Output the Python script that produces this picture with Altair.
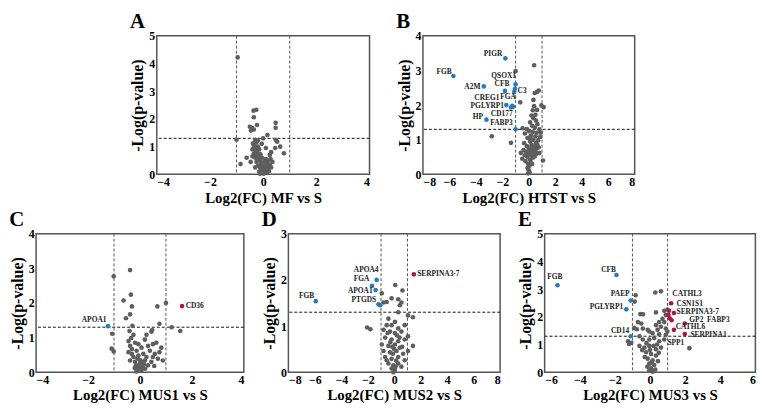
import altair as alt
import pandas as pd

FONT = "Liberation Serif"
GRAY = "#5e5e5e"
BLUE = "#2a7ab7"
RED = "#a8193f"

FC_CUT = [-1, 1]
P_CUT = [1.3]

# ---------------- Panel A : MF vs S ----------------
A_GRAY = [
    (-0.96, 4.22), (-0.36, 2.30), (-0.26, 2.33), (-0.35, 2.06), (-0.23, 1.78), (-0.50, 1.72), (-0.42, 1.68),
    (-0.35, 1.62), (-0.46, 1.58), (0.47, 1.86), (0.47, 1.68), (-1.00, 1.25), (0.00, 1.30), (0.16, 1.42),
    (0.47, 1.25), (0.53, 1.18), (0.64, 1.00), (0.78, 0.76), (0.45, 0.95), (0.30, 0.80), (-0.62, 0.60),
    (-0.85, 0.37), (-0.47, 0.45), (-0.30, 1.25), (-0.25, 1.15), (-0.35, 1.05), (-0.20, 1.00), (-0.30, 0.95),
    (-0.15, 0.90), (-0.28, 0.85), (-0.22, 0.80), (-0.35, 0.75), (-0.10, 0.72), (-0.25, 0.70), (-0.18, 0.65),
    (-0.30, 0.60), (-0.05, 0.60), (0.10, 0.55), (-0.20, 0.55), (-0.12, 0.50), (0.05, 0.48), (0.20, 0.50),
    (-0.25, 0.45), (0.00, 0.42), (0.15, 0.40), (-0.10, 0.38), (0.25, 0.35), (-0.05, 0.32), (0.10, 0.30),
    (-0.20, 0.30), (0.05, 0.25), (0.18, 0.22), (-0.10, 0.20), (0.00, 0.18), (0.12, 0.15), (-0.05, 0.12),
    (0.05, 0.08), (-0.02, 0.05), (0.02, 0.02), (0.30, 0.25), (-0.30, 0.25), (0.22, 0.12), (-0.15, 0.10),
    (0.35, 0.45), (0.28, 0.55), (-0.40, 0.90), (-0.38, 1.12), (0.10, 0.95), (-0.05, 1.10), (0.08, 0.20),
    (-0.08, 0.28), (0.15, 0.05), (-0.12, 0.02), (0.20, 0.30), (-0.20, 1.22), (-0.32, 1.00), (-0.40, 0.65),
    (0.25, 0.70),
]
A_BLUE = []
A_RED = []
A_LAB_R = []
A_LAB_L = []

# ---------------- Panel B : HTST vs S ----------------
B_GRAY = [
    (0.40, 3.15), (-1.00, 2.98), (0.75, 2.42), (0.62, 2.38), (0.45, 2.35), (-0.65, 2.08), (0.35, 2.15),
    (0.40, 1.97), (0.95, 1.99), (1.12, 1.94), (0.30, 1.85), (0.62, 1.86), (0.20, 1.70), (0.50, 1.72),
    (0.35, 1.62), (0.55, 1.55), (0.10, 1.50), (0.65, 1.45), (0.25, 1.40), (0.45, 1.35), (-0.47, 1.33),
    (-0.15, 1.31), (0.80, 1.30), (0.00, 1.25), (0.30, 1.22), (0.60, 1.20), (-0.30, 1.18), (0.15, 1.12),
    (0.50, 1.10), (0.85, 1.08), (-0.10, 1.05), (0.35, 1.00), (0.70, 0.98), (-1.35, 0.91), (-2.80, 1.10),
    (0.10, 0.95), (-0.35, 0.90), (0.55, 0.90), (0.20, 0.85), (-0.15, 0.82), (0.40, 0.80), (0.75, 0.78),
    (0.00, 0.75), (0.25, 0.72), (-0.40, 0.70), (0.50, 0.70), (0.10, 0.66), (-0.20, 0.65), (0.35, 0.62),
    (0.60, 0.60), (0.00, 0.58), (-0.30, 0.55), (0.20, 0.55), (0.45, 0.52), (-0.10, 0.50), (0.30, 0.48),
    (1.07, 0.40), (0.10, 0.42), (-0.50, 0.45), (0.15, 0.35), (-0.05, 0.30), (0.05, 0.25), (-0.10, 0.18),
    (0.00, 0.12), (0.05, 0.06), (-0.05, 0.03), (0.25, 0.30), (-0.25, 0.38), (0.80, 0.62), (0.90, 1.20),
    (0.40, 0.58), (0.55, 0.75), (0.65, 0.85), (0.15, 1.02), (-0.60, 0.62),
]
B_BLUE = [
    (-1.77, 3.35), (-5.70, 2.84), (-3.40, 2.54), (-1.80, 2.41), (-1.00, 2.60), (-1.05, 2.47), (-1.10, 2.38),
    (-1.70, 2.00), (-1.25, 1.98), (-1.35, 1.93), (-1.20, 1.95), (-3.20, 1.58), (-1.00, 1.30),
]
B_RED = []
B_LAB_R = [
    ("PIGR", -2.0, 3.48), ("FGB", -5.83, 2.96), ("A2M", -3.66, 2.51), ("QSOX1", -0.97, 2.83),
    ("CFB", -1.47, 2.60), ("CREG1", -2.22, 2.19), ("FGA", -0.97, 2.22), ("PGLYRP1", -1.87, 1.97),
    ("CD177", -1.22, 1.73), ("HP", -3.46, 1.66), ("FABP3", -1.22, 1.47),
]
B_LAB_L = [("C3", -0.85, 2.42)]

# ---------------- Panel C : MUS1 vs S ----------------
C_GRAY = [
    (-0.38, 2.95), (-1.01, 2.77), (-0.63, 2.07), (-0.35, 2.24), (-0.31, 1.90), (0.67, 1.90), (1.00, 2.00),
    (-0.54, 1.56), (-0.38, 1.67), (-0.29, 1.34), (0.75, 1.40), (1.22, 1.30), (1.55, 1.19), (-1.07, 1.11),
    (-1.09, 0.68), (-1.01, 0.60), (-0.40, 1.19), (-0.25, 1.08), (-0.34, 0.99), (-0.44, 0.90), (-0.19, 0.85),
    (-0.38, 0.76), (-0.06, 0.81), (-0.31, 0.67), (-0.13, 0.62), (0.06, 0.71), (0.19, 0.94), (0.44, 1.17),
    (0.47, 1.22), (0.25, 1.08), (0.31, 0.76), (0.50, 0.81), (0.63, 0.85), (0.38, 0.62), (0.57, 0.53),
    (0.69, 0.39), (0.88, 0.34), (0.13, 0.53), (-0.06, 0.48), (-0.25, 0.44), (-0.38, 0.34), (-0.19, 0.30),
    (0.00, 0.25), (0.19, 0.34), (0.31, 0.20), (0.06, 0.11), (-0.06, 0.16), (-0.13, 0.02), (0.13, 0.30),
    (-0.31, 0.53), (-0.44, 0.58), (0.50, 0.44), (0.25, 0.44), (0.44, 0.30), (0.75, 0.58), (0.82, 0.71),
    (0.05, 0.05), (-0.05, 0.08), (0.10, 0.15), (-0.15, 0.20), (0.20, 0.10), (0.55, 0.18), (-0.20, 0.12),
    (0.00, 0.35), (0.15, 0.22), (-0.10, 0.40),
]
C_BLUE = [(-1.23, 1.33)]
C_RED = [(1.62, 1.91)]
C_LAB_R = [("APOA1", -1.29, 1.52)]
C_LAB_L = [("CD36", 1.76, 1.90)]

# ---------------- Panel D : MUS2 vs S ----------------
D_GRAY = [
    (-0.94, 1.71), (0.07, 1.89), (0.62, 1.77), (-0.20, 1.60), (0.30, 1.58), (-0.57, 1.52), (-0.81, 1.51),
    (0.42, 1.45), (0.54, 1.51), (1.41, 1.19), (1.04, 1.23), (-2.05, 0.97), (-1.80, 0.93), (-0.44, 1.16),
    (0.05, 1.09), (-0.57, 1.02), (-0.20, 1.02), (0.30, 0.95), (0.79, 1.02), (-0.81, 0.92), (-0.32, 0.88),
    (0.05, 0.85), (0.54, 0.88), (1.04, 0.78), (1.41, 0.57), (-0.69, 0.75), (-0.20, 0.71), (0.30, 0.67),
    (0.79, 0.71), (-0.94, 0.60), (-0.44, 0.57), (0.05, 0.60), (0.42, 0.53), (-0.81, 0.46), (-0.32, 0.43),
    (0.17, 0.46), (0.67, 0.40), (1.04, 0.46), (-0.69, 0.33), (-0.20, 0.29), (0.30, 0.33), (0.79, 0.26),
    (-0.44, 0.19), (-0.07, 0.15), (0.30, 0.19), (-0.20, 0.08), (0.05, 0.05), (-0.07, 0.00), (-0.57, 0.26),
    (0.54, 0.12), (0.30, 1.30), (-0.10, 0.40), (0.15, 0.25), (-0.30, 0.65), (0.20, 0.80), (0.60, 0.55),
    (-0.50, 0.85), (0.00, 0.50), (0.10, 0.12), (-0.15, 0.55), (0.40, 0.75),
]
D_BLUE = [(-5.93, 1.54), (-1.33, 2.00), (-1.68, 1.87), (-1.41, 1.78), (-1.19, 1.47), (-1.06, 1.45)]
D_RED = [(1.48, 2.12)]
D_LAB_R = [
    ("APOA4", -1.19, 2.21), ("FGA", -1.88, 2.02), ("APOA1", -1.63, 1.76), ("PTGDS", -1.36, 1.56),
    ("FGB", -6.05, 1.65),
]
D_LAB_L = [("SERPINA3-7", 1.73, 2.12)]

# ---------------- Panel E : MUS3 vs S ----------------
E_GRAY = [
    (-0.82, 2.78), (-0.87, 2.55), (0.30, 2.88), (0.62, 2.92), (-0.55, 2.10), (-0.40, 2.09), (0.34, 2.16),
    (0.81, 2.22), (0.99, 2.26), (0.90, 2.07), (0.71, 1.93), (0.52, 1.81), (0.81, 1.81), (0.34, 1.70),
    (0.62, 1.64), (0.90, 1.58), (0.43, 1.53), (-0.69, 1.81), (-0.50, 1.76), (-0.41, 1.58), (-0.13, 1.53),
    (-0.04, 1.47), (0.15, 1.41), (0.52, 1.37), (0.90, 1.35), (0.99, 1.47), (-1.25, 1.12), (-1.07, 1.06),
    (-1.19, 1.02), (-0.60, 1.30), (-0.41, 1.18), (-0.04, 1.18), (0.24, 1.24), (0.52, 1.12), (0.81, 1.18),
    (-0.60, 0.95), (-0.32, 0.89), (-0.04, 0.95), (0.34, 0.83), (0.62, 0.89), (-0.22, 0.72), (0.06, 0.66),
    (0.34, 0.60), (-0.13, 0.49), (0.15, 0.43), (-0.04, 0.31), (0.24, 0.26), (0.06, 0.14), (0.15, 0.02),
    (-0.30, 0.55), (0.45, 0.40), (-0.15, 0.20), (0.30, 0.10), (-0.05, 0.05), (0.10, 0.35), (0.50, 0.70),
    (-0.45, 0.80), (0.20, 0.95), (-0.20, 1.05), (0.40, 1.00), (0.00, 0.80), (2.24, 0.87), (-0.75, 1.55),
    (-0.90, 1.60),
]
E_BLUE = [(-5.27, 3.14), (-1.91, 3.51), (-1.10, 2.59), (-1.35, 2.27), (-1.10, 1.30)]
E_RED = [
    (1.20, 2.49), (1.08, 2.22), (1.36, 2.14), (1.05, 2.07), (1.12, 1.95), (1.23, 1.875), (1.98, 1.76),
    (1.36, 1.53), (1.98, 1.38),
]
E_LAB_R = [
    ("FGB", -4.99, 3.44), ("CFB", -1.94, 3.69), ("PAEP", -1.16, 2.84), ("PGLYRP1", -1.53, 2.34),
    ("CD14", -1.19, 1.50),
]
E_LAB_L = [
    ("CATHL3", 1.27, 2.82), ("CSN1S1", 1.51, 2.48), ("SERPINA3-7", 1.51, 2.18), ("GP2", 2.24, 1.90),
    ("FABP3", 3.25, 1.90), ("CATHL6", 1.46, 1.63), ("SERPINA1", 2.30, 1.35), ("SPP1", 0.99, 1.06),
]


def panel(letter, gray, blue, red, lab_r, lab_l, xdom, xstep, ymax, xtitle, w, h):
    rows = ([(x, y, "g") for x, y in gray] + [(x, y, "b") for x, y in blue]
            + [(x, y, "r") for x, y in red])
    pts = pd.DataFrame(rows, columns=["x", "y", "grp"])
    xs = alt.Scale(domain=list(xdom), nice=False, zero=False)
    ys = alt.Scale(domain=[0, ymax], nice=False, zero=False)
    xax = alt.Axis(values=list(range(xdom[0], xdom[1] + 1, xstep)), title=xtitle)
    yax = alt.Axis(values=list(range(0, ymax + 1)), title="-Log(p-value)")

    def X(f):
        return alt.X(f, type="quantitative", scale=xs, axis=xax)

    def Y(f):
        return alt.Y(f, type="quantitative", scale=ys, axis=yax)

    vr = alt.Chart(pd.DataFrame({"x": FC_CUT})).mark_rule(
        strokeDash=[3, 2], color="#555555", strokeWidth=1).encode(x=X("x"))
    hr = alt.Chart(pd.DataFrame({"y": P_CUT})).mark_rule(
        strokeDash=[3, 2], color="#111111", strokeWidth=1).encode(y=Y("y"))
    dots = alt.Chart(pts).mark_circle(size=22, opacity=1).encode(
        x=X("x"), y=Y("y"),
        color=alt.Color("grp:N", scale=alt.Scale(domain=["g", "b", "r"], range=[GRAY, BLUE, RED]),
                        legend=None))
    layers = [vr, hr, dots]
    for labs, al in ((lab_r, "right"), (lab_l, "left")):
        if labs:
            df = pd.DataFrame(labs, columns=["t", "x", "y"])
            layers.append(alt.Chart(df).mark_text(
                align=al, baseline="middle", font=FONT, fontWeight="bold", fontSize=7.5,
                color="#222222").encode(x=X("x"), y=Y("y"), text="t:N"))
    return alt.layer(*layers).properties(width=w, height=h, title=letter)


H = 140
pA = panel("A", A_GRAY, A_BLUE, A_RED, A_LAB_R, A_LAB_L, (-4, 4), 2, 5, "Log2(FC) MF vs S", 215, H)
pB = panel("B", B_GRAY, B_BLUE, B_RED, B_LAB_R, B_LAB_L, (-8, 8), 2, 4, "Log2(FC) HTST vs S", 214, H)
pC = panel("C", C_GRAY, C_BLUE, C_RED, C_LAB_R, C_LAB_L, (-4, 4), 2, 4, "Log2(FC) MUS1 vs S", 210, H)
pD = panel("D", D_GRAY, D_BLUE, D_RED, D_LAB_R, D_LAB_L, (-8, 8), 2, 3, "Log2(FC) MUS2 vs S", 214, H)
pE = panel("E", E_GRAY, E_BLUE, E_RED, E_LAB_R, E_LAB_L, (-6, 6), 2, 5, "Log2(FC) MUS3 vs S", 213, H)

top = alt.hconcat(pA, pB, spacing=24)
bottom = alt.hconcat(pC, pD, pE, spacing=15)

chart = alt.vconcat(top, bottom, spacing=2, center=True).properties(
    padding={"left": 0, "top": 0, "right": 0, "bottom": 0}, background="white"
).configure_view(
    stroke="#555555", strokeWidth=1.5
).configure_axis(
    domain=False, ticks=False, tickSize=0, grid=False,
    labelFont=FONT, labelFontWeight="bold", labelFontSize=12, labelColor="black", labelPadding=2,
    titleFont=FONT, titleFontWeight="bold", titleColor="black", titlePadding=3,
).configure_axisX(titleFontSize=15).configure_axisY(titleFontSize=16).configure_title(
    font=FONT, fontWeight="bold", fontSize=21, anchor="start", frame="bounds", offset=-2, color="black"
)

chart.save("out.html", embed_options={"renderer": "svg", "actions": False})
